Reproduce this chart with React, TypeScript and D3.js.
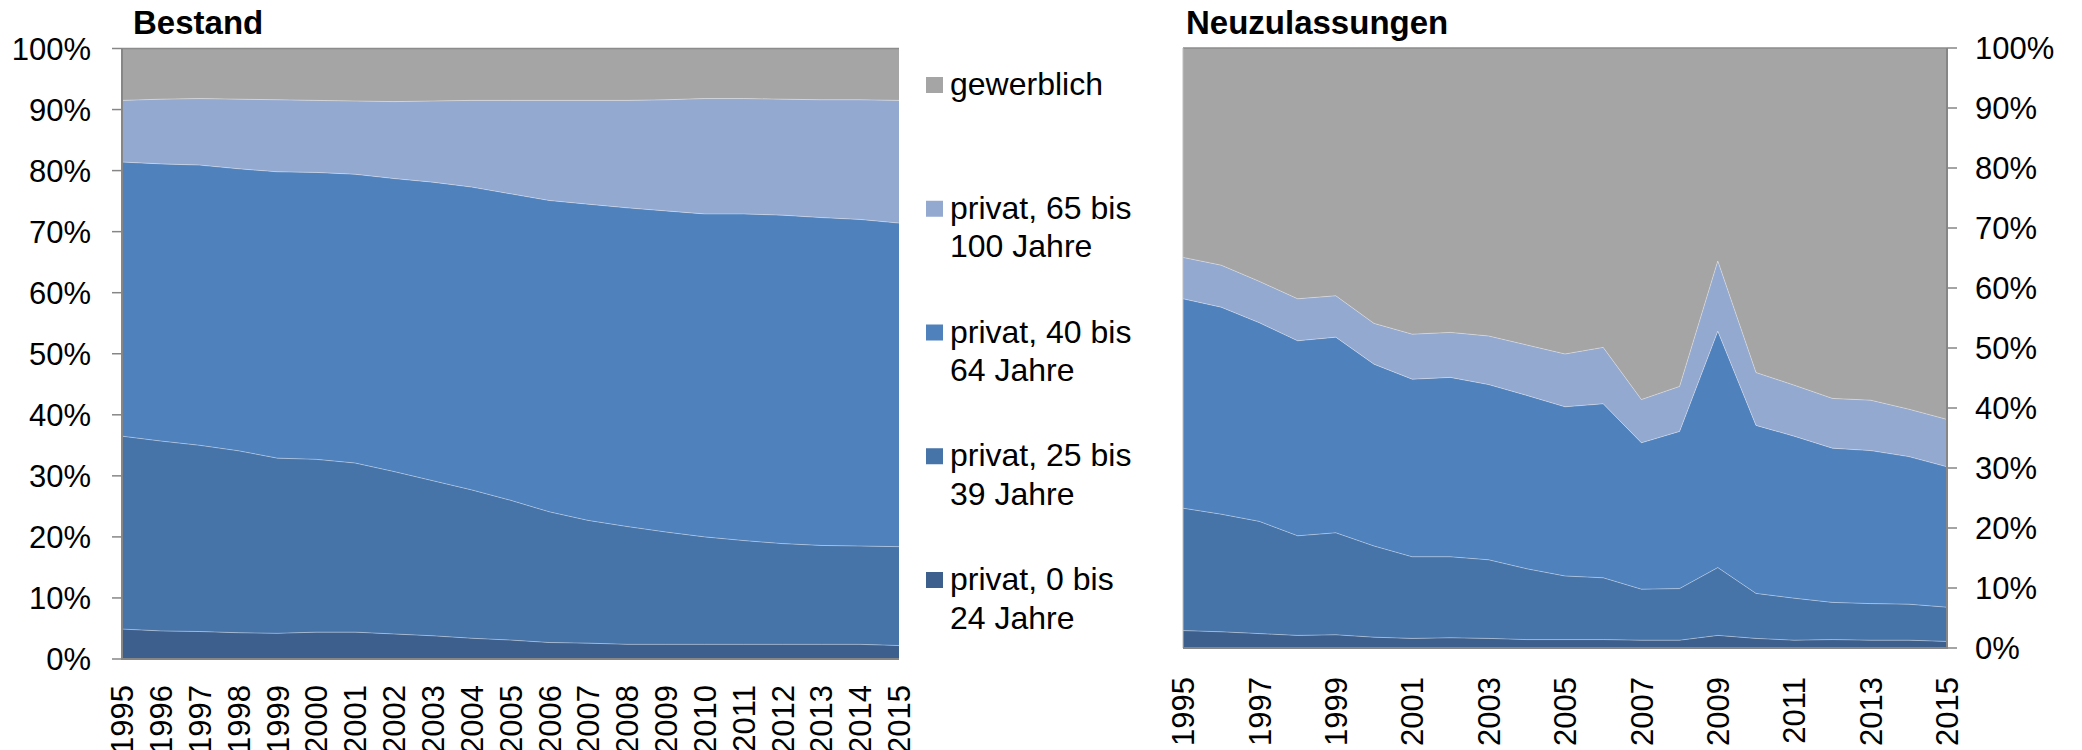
import React from "react";
import * as d3 from "d3";

const years = [1995,1996,1997,1998,1999,2000,2001,2002,2003,2004,2005,2006,2007,2008,2009,2010,2011,2012,2013,2014,2015];
const seriesKeys = ["p0_24", "p25_39", "p40_64", "p65_100", "gewerblich"];
const seriesLabels: Record<string, string[]> = {
  gewerblich: ["gewerblich"],
  p65_100: ["privat, 65 bis", "100 Jahre"],
  p40_64: ["privat, 40 bis", "64 Jahre"],
  p25_39: ["privat, 25 bis", "39 Jahre"],
  p0_24: ["privat, 0 bis", "24 Jahre"],
};
const legendOrder = ["gewerblich", "p65_100", "p40_64", "p25_39", "p0_24"];
const colors: Record<string, string> = {
  gewerblich: "#A5A5A5",
  p65_100: "#94A9D0",
  p40_64: "#4F81BD",
  p25_39: "#4673A8",
  p0_24: "#3C5F8E",
};

// Bestand (shares in %)
const bestand_p0_24 = [4.9,4.6,4.5,4.3,4.2,4.4,4.4,4.1,3.8,3.4,3.1,2.7,2.6,2.4,2.4,2.4,2.4,2.4,2.4,2.4,2.2];
const bestand_p25_39 = [31.6,31.1,30.5,29.8,28.7,28.3,27.7,26.6,25.4,24.3,22.9,21.4,20.1,19.3,18.4,17.6,17.0,16.5,16.2,16.1,16.2];
const bestand_p40_64 = [44.9,45.4,45.9,46.2,46.9,47.0,47.3,48.0,48.9,49.6,50.2,51.0,51.8,52.2,52.6,52.9,53.5,53.8,53.7,53.5,53.0];
const bestand_p65_100 = [10.1,10.6,10.9,11.4,11.8,11.8,12.0,12.6,13.3,14.2,15.3,16.4,17.0,17.6,18.2,18.9,18.9,19.0,19.3,19.6,20.1];
const bestand_gewerblich = [8.5,8.3,8.2,8.3,8.4,8.5,8.6,8.7,8.6,8.5,8.5,8.5,8.5,8.5,8.4,8.2,8.2,8.3,8.4,8.4,8.5];

// Neuzulassungen (shares in %)
const neu_p0_24 = [2.9,2.7,2.4,2.1,2.2,1.8,1.6,1.7,1.6,1.4,1.4,1.4,1.3,1.3,2.1,1.6,1.3,1.4,1.3,1.3,1.1];
const neu_p25_39 = [20.4,19.6,18.7,16.6,17.0,15.2,13.6,13.5,13.1,11.8,10.6,10.3,8.5,8.6,11.3,7.5,7.0,6.2,6.1,6.0,5.7];
const neu_p40_64 = [34.9,34.5,33.1,32.5,32.6,30.3,29.6,29.9,29.2,28.9,28.2,29.0,24.4,26.2,39.4,28.0,27.0,25.7,25.5,24.6,23.4];
const neu_p65_100 = [6.9,7.0,6.9,7.0,6.9,6.8,7.5,7.5,8.1,8.4,8.8,9.4,7.2,7.5,11.7,8.8,8.5,8.3,8.4,7.9,7.9];
const neu_gewerblich = [34.9,36.2,38.9,41.8,41.3,45.9,47.7,47.4,48.0,49.5,51.0,49.9,58.6,56.4,35.5,54.1,56.2,58.4,58.7,60.2,61.9];

const yTicks = [0,10,20,30,40,50,60,70,80,90,100];
const bestandYearLabels = years;
const neuYearLabels = [1995,1997,1999,2001,2003,2005,2007,2009,2011,2013,2015];

const FONT = "'Liberation Sans', Arial, sans-serif";

function buildRows(s0: number[], s1: number[], s2: number[], s3: number[], s4: number[]) {
  return years.map((y, i) => ({ year: y, p0_24: s0[i], p25_39: s1[i], p40_64: s2[i], p65_100: s3[i], gewerblich: s4[i] }));
}

type ChartProps = {
  rows: any[];
  left: number; right: number; top: number; bottom: number;
  title: string;
  axisSide: "left" | "right";
  yearLabels: number[];
  labelTop: number;
};

function AreaChart({ rows, left, right, top, bottom, title, axisSide, yearLabels, labelTop }: ChartProps) {
  const x = d3.scaleLinear().domain([years[0], years[years.length - 1]]).range([left, right]);
  const y = d3.scaleLinear().domain([0, 100]).range([bottom, top]);
  const stacked = d3.stack<any>().keys(seriesKeys)(rows);
  const area = d3.area<any>().x((d: any) => x(d.data.year)).y0((d: any) => y(d[0])).y1((d: any) => y(Math.min(100, d[1])));
  const line = d3.line<any>().x((d: any) => x(d.data.year)).y((d: any) => y(d[1]));
  const axisX = axisSide === "left" ? left : right;
  const otherX = axisSide === "left" ? right : left;
  const tickDir = axisSide === "left" ? -1 : 1;
  return (
    <g>
      {stacked.map((s) => (
        <path key={s.key} d={area(s as any) || ""} fill={colors[s.key]} />
      ))}
      {stacked.slice(0, 4).map((s) => (
        <path key={"l" + s.key} d={line(s as any) || ""} fill="none" stroke="rgba(255,255,255,0.35)" strokeWidth={1} />
      ))}
      <line x1={left} x2={right} y1={top} y2={top} stroke="#8C8C8C" strokeWidth={1.5} />
      {axisSide === "right" && (
        <line x1={otherX} x2={otherX} y1={top} y2={bottom} stroke="#BDBDBD" strokeWidth={1} />
      )}
      <line x1={axisX} x2={axisX} y1={top} y2={bottom + 1} stroke="#868686" strokeWidth={2} />
      <line x1={left} x2={right} y1={bottom} y2={bottom} stroke="#868686" strokeWidth={2} />
      {yTicks.map((t) => (
        <g key={t}>
          <line x1={axisX} x2={axisX + tickDir * 10} y1={y(t)} y2={y(t)} stroke="#868686" strokeWidth={1.5} />
          <text
            x={axisSide === "left" ? axisX - 31 : axisX + 28}
            y={y(t)}
            dy="0.36em"
            textAnchor={axisSide === "left" ? "end" : "start"}
            fontFamily={FONT}
            fontSize={31}
            fill="#000"
          >
            {t + "%"}
          </text>
        </g>
      ))}
      {yearLabels.map((yr) => (
        <text
          key={yr}
          transform={`translate(${x(yr)},${labelTop}) rotate(-90)`}
          dy="0.36em"
          textAnchor="end"
          fontFamily={FONT}
          fontSize={31}
          fill="#000"
        >
          {yr}
        </text>
      ))}
      <text x={axisSide === "left" ? left + 11 : left + 3} y={34} fontFamily={FONT} fontSize={33} fontWeight="bold" fill="#000">
        {title}
      </text>
    </g>
  );
}

export default function App() {
  const bestandRows = buildRows(bestand_p0_24, bestand_p25_39, bestand_p40_64, bestand_p65_100, bestand_gewerblich);
  const neuRows = buildRows(neu_p0_24, neu_p25_39, neu_p40_64, neu_p65_100, neu_gewerblich);
  const legendY = d3.scaleLinear().domain([0, legendOrder.length - 1]).range([95, 590]);
  return (
    <div style={{ position: "absolute", left: 0, top: 0 }}>
      <svg width={2082} height={750} style={{ display: "block", background: "#fff" }}>
        <AreaChart rows={bestandRows} left={122} right={899} top={48.5} bottom={659} title="Bestand" axisSide="left" yearLabels={bestandYearLabels} labelTop={685} />
        <AreaChart rows={neuRows} left={1183} right={1947} top={48} bottom={648} title="Neuzulassungen" axisSide="right" yearLabels={neuYearLabels} labelTop={677} />
        {legendOrder.map((k, i) => (
          <g key={k}>
            <rect x={926} y={legendY(i) - 18} width={17} height={16} fill={colors[k]} />
            {seriesLabels[k].map((ln, j) => (
              <text key={j} x={950} y={legendY(i) + j * 38.5} fontFamily={FONT} fontSize={32} fill="#000">
                {ln}
              </text>
            ))}
          </g>
        ))}
      </svg>
    </div>
  );
}
